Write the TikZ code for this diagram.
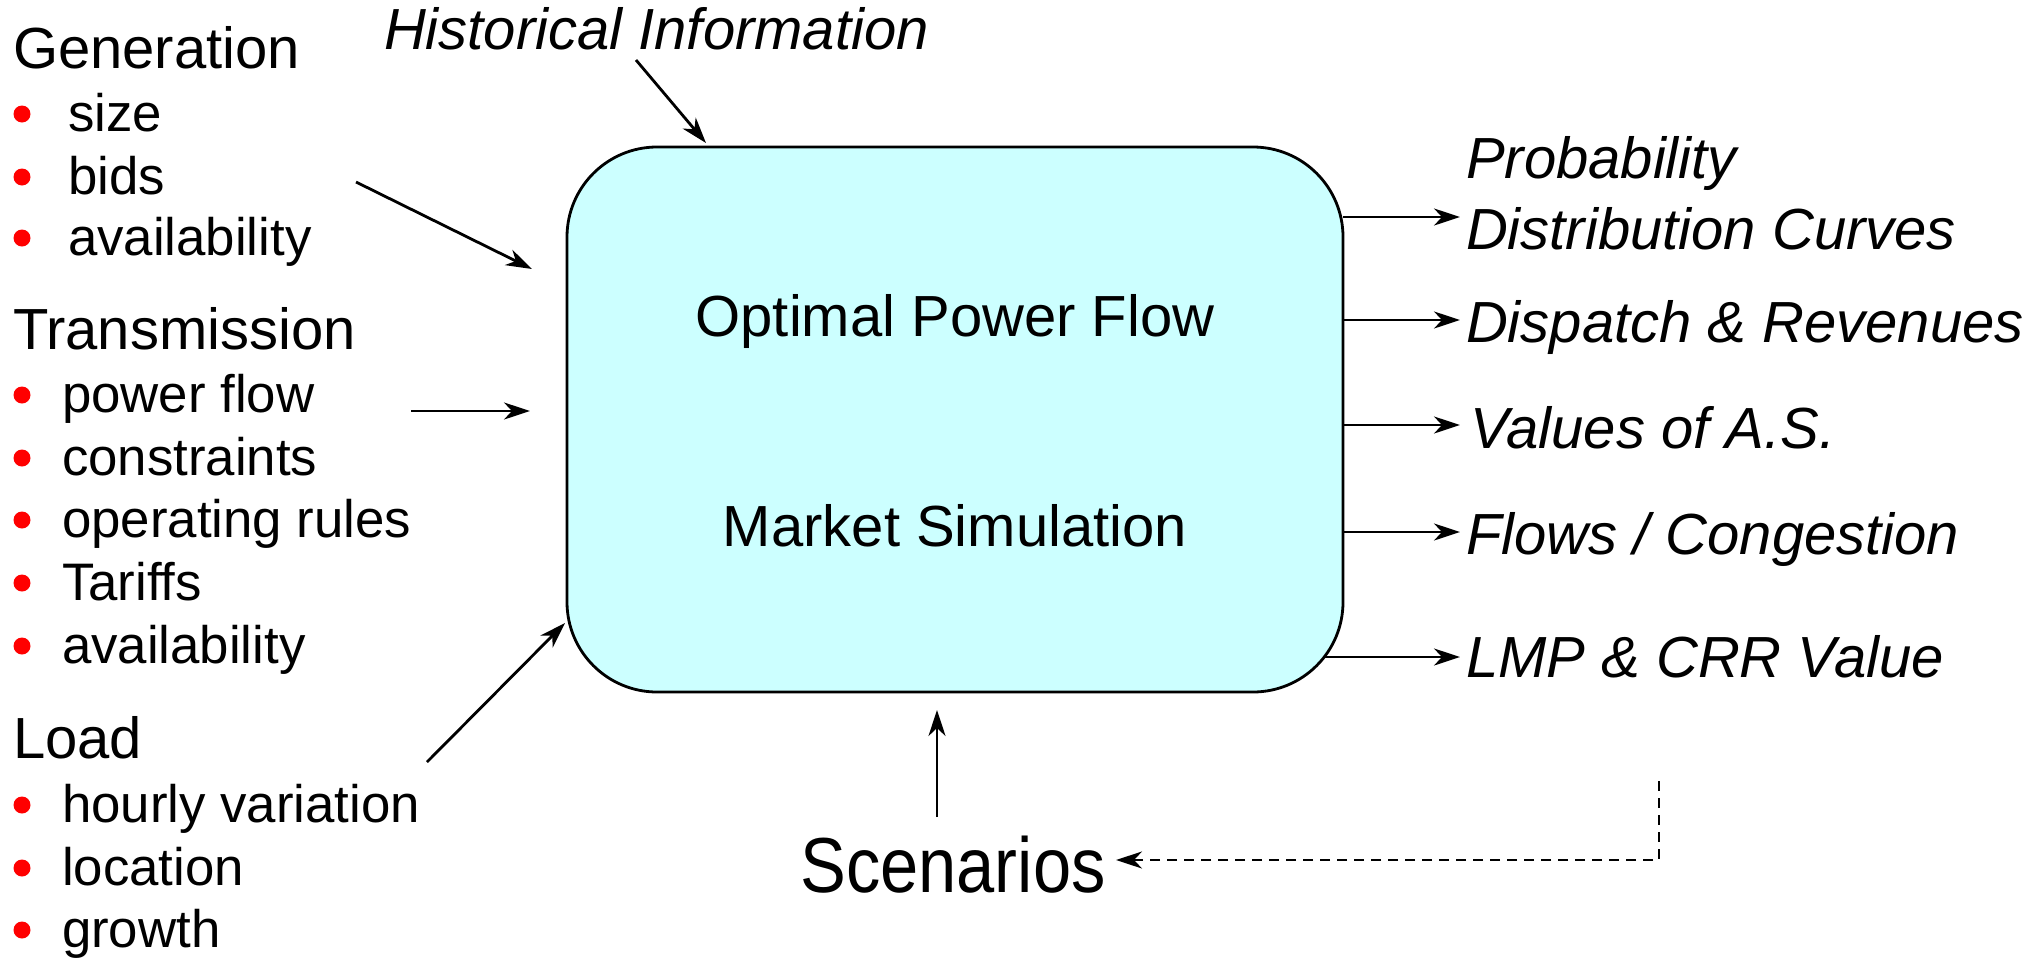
\documentclass[tikz,border=0pt]{standalone}
\usepackage{fontspec}
\setmainfont{Liberation Sans}
\usetikzlibrary{arrows.meta}
\definecolor{boxfill}{HTML}{CCFFFF}
\begin{document}
\begin{tikzpicture}[x=0.5pt,y=-0.5pt,
  txt/.style={anchor=base west,inner sep=0pt,outer sep=0pt,font=\fontsize{29}{35}\selectfont},
  itm/.style={txt,font=\fontsize{26.4}{32}\selectfont},
  itx/.style={txt,font=\fontsize{29}{35}\selectfont\itshape},
  bul/.style={circle,fill=red,inner sep=0pt,minimum size=8.5pt},
  arr/.style={line width=1.4pt,-{Stealth[length=13pt,width=8.5pt,inset=4pt]}},
  dasharr/.style={line width=1.1pt,-{Stealth[length=13pt,width=8.5pt,inset=4pt]},dash pattern=on 5pt off 3.5pt},
  mainbox/.style={draw,line width=1.4pt,fill=boxfill,rounded corners=45pt}
]
\useasboundingbox (0,0) rectangle (2040,959);
% main box
\draw[mainbox] (567,147) rectangle (1343,692);
\node[txt,anchor=base] (opf) at (955,336) {Optimal Power Flow};
\node[txt,anchor=base] (ms) at (955,546) {Market Simulation};
% left column
\node[txt] (gen) at (13,68) {Generation};
\node[itm] (g1) at (68,131) {size};
\node[itm] (g2) at (68,194) {bids};
\node[itm] (g3) at (68,255) {availability};
\node[bul] (bg1) at (22,114) {};
\node[bul] (bg2) at (22,177) {};
\node[bul] (bg3) at (22,238) {};
\node[txt] (tr) at (13,349) {Transmission};
\node[itm] (t1) at (62,412) {power flow};
\node[itm] (t2) at (62,475) {constraints};
\node[itm] (t3) at (62,537) {operating rules};
\node[itm] (t4) at (62,600) {Tariffs};
\node[itm] (t5) at (62,663) {availability};
\node[bul] (bt1) at (22,395) {};
\node[bul] (bt2) at (22,458) {};
\node[bul] (bt3) at (22,520) {};
\node[bul] (bt4) at (22,583) {};
\node[bul] (bt5) at (22,646) {};
\node[txt] (ld) at (13,758) {Load};
\node[itm] (l1) at (62,822) {hourly variation};
\node[itm] (l2) at (62,885) {location};
\node[itm] (l3) at (62,947) {growth};
\node[bul] (bl1) at (22,805) {};
\node[bul] (bl2) at (22,868) {};
\node[bul] (bl3) at (22,930) {};
% top
\node[itx] (hist) at (384,49) {Historical Information};
% right labels
\node[itx] (r0) at (1466,178) {Probability};
\node[itx] (r1) at (1466,249) {Distribution Curves};
\node[itx] (r2) at (1466,342) {Dispatch \& Revenues};
\node[itx] (r3) at (1470,448) {Values of A.S.};
\node[itx] (r4) at (1466,554) {Flows / Congestion};
\node[itx] (r5) at (1466,677) {LMP \& CRR Value};
% scenarios
\node[anchor=base,inner sep=0pt,font=\fontsize{39}{45}\selectfont] (scen) at (953,892) {\scalebox{0.88}[1]{Scenarios}};
% connector coordinates
\coordinate (gA) at (356,182); \coordinate (gB) at (532,269);
\coordinate (tA) at (411,411); \coordinate (tB) at (530,411);
\coordinate (lA) at (427,762); \coordinate (lB) at (565,623);
\coordinate (hA) at (636,60);  \coordinate (hB) at (706,143);
\coordinate (sA) at (937,817); \coordinate (sB) at (937,710);
\coordinate (o1a) at (1343,217); \coordinate (o1b) at (1460,217);
\coordinate (o2a) at (1343,320); \coordinate (o2b) at (1460,320);
\coordinate (o3a) at (1343,425); \coordinate (o3b) at (1460,425);
\coordinate (o4a) at (1343,532); \coordinate (o4b) at (1460,532);
\coordinate (o5a) at (1324,657); \coordinate (o5b) at (1460,657);
\coordinate (dA) at (1659,781); \coordinate (dB) at (1659,860); \coordinate (dC) at (1116,860);
% connectors
\draw[arr] (gA) -- (gB);
\draw[arr] (tA) -- (tB);
\draw[arr] (lA) -- (lB);
\draw[arr] (hA) -- (hB);
\draw[arr] (sA) -- (sB);
\draw[arr] (o1a) -- (o1b);
\draw[arr] (o2a) -- (o2b);
\draw[arr] (o3a) -- (o3b);
\draw[arr] (o4a) -- (o4b);
\draw[arr] (o5a) -- (o5b);
\draw[dasharr] (dA) -- (dB) -- (dC);
\end{tikzpicture}
\end{document}
